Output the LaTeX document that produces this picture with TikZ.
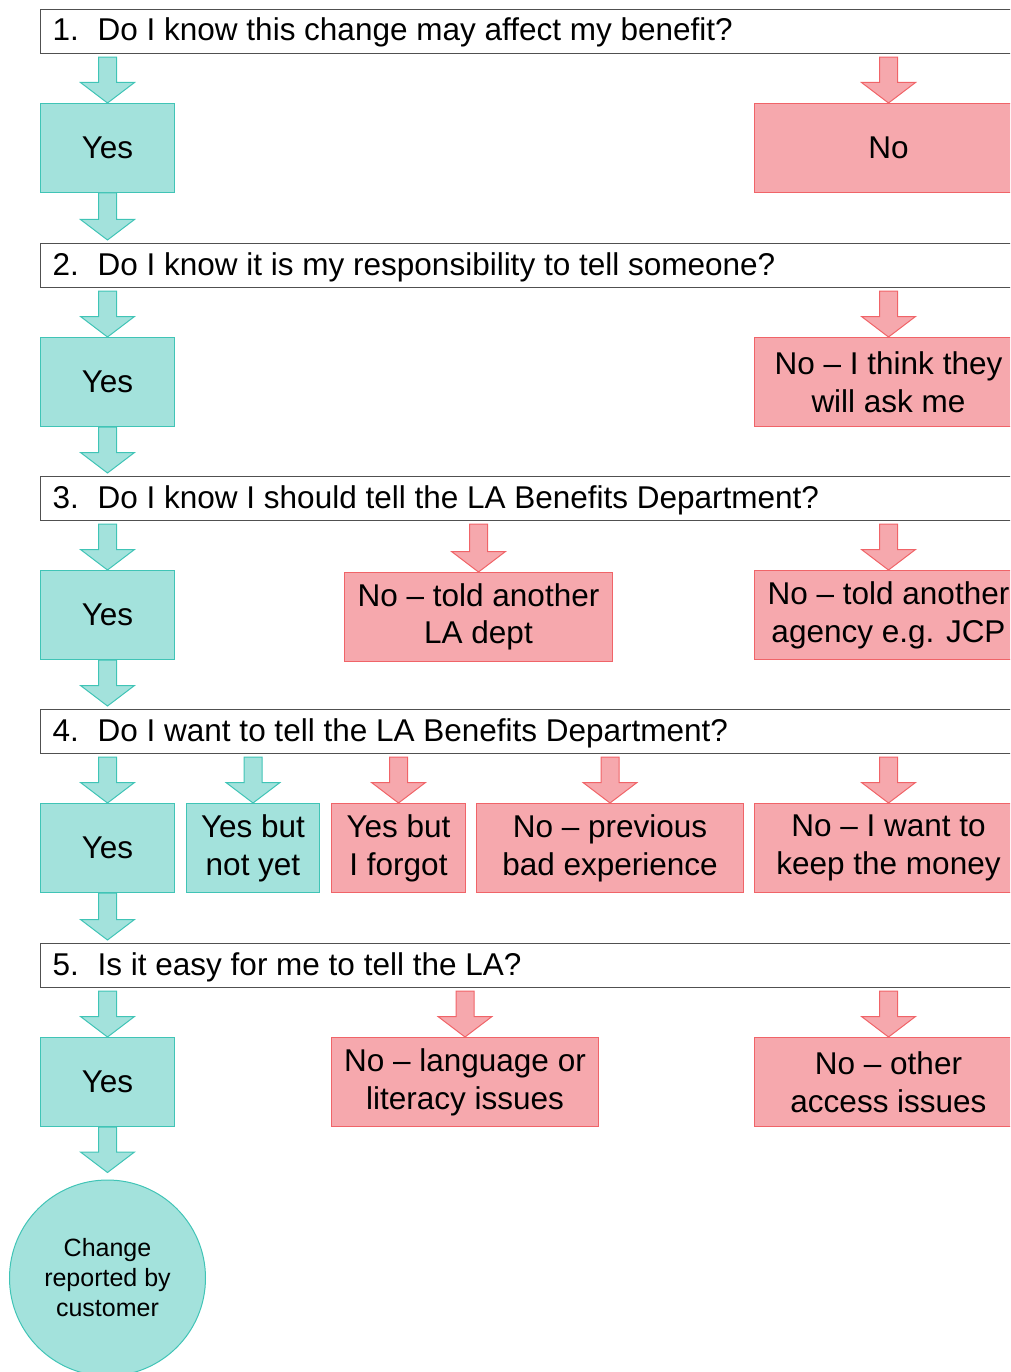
\documentclass[tikz,border=0pt]{standalone}
\usepackage{fontspec}
\setmainfont{Liberation Sans}
\usetikzlibrary{calc, positioning}
\definecolor{yesFill}{HTML}{A3E2DC}
\definecolor{yesLine}{HTML}{40C4B6}
\definecolor{noFill}{HTML}{F6A8AD}
\definecolor{noLine}{HTML}{F06468}
\definecolor{qLine}{HTML}{505050}
\newcommand{\bigtxt}{\fontsize{31.5}{37.7}\selectfont}
\newcommand{\smalltxt}{\fontsize{25}{30}\selectfont}
% block arrow from a top point down to a tip point
\newcommand{\blockarrow}[3]{%
  \path #2 coordinate (ba-t) #3 coordinate (ba-h);
  \draw[#1] ($(ba-t)+(-9,0)$) -- ($(ba-h)+(-9,-20.5)$) -- ($(ba-h)+(-27,-20.5)$) -- (ba-h)
    -- ($(ba-h)+(27,-20.5)$) -- ($(ba-h)+(9,-20.5)$) -- ($(ba-t)+(9,0)$) -- cycle;}
\tikzset{
  % one unit is one pixel of the page, y runs downwards
  qbox/.style     = {draw=qLine, line width=1.1pt, fill=white, anchor=north west,
                     minimum width=1000, minimum height=44, inner sep=0pt},
  qtext/.style    = {anchor=base west, inner sep=0pt, font=\bigtxt},
  ansbox/.style   = {anchor=north west, inner sep=0pt, minimum height=89,
                     align=center, font=\bigtxt, line width=1pt},
  yesbox/.style   = {ansbox, fill=yesFill, draw=yesLine},
  nobox/.style    = {ansbox, fill=noFill, draw=noLine},
  yesarrow/.style = {fill=yesFill, draw=yesLine, line width=1pt},
  noarrow/.style  = {fill=noFill, draw=noLine, line width=1pt},
  endcircle/.style = {circle, fill=yesFill, draw=yesLine, line width=1pt,
                      minimum size=196, inner sep=0pt, align=center, font=\smalltxt},
}

\begin{document}
\begin{tikzpicture}[x=1pt, y=-1pt]
\useasboundingbox (0,0) rectangle (1010,1372);
\clip (0,0) rectangle (1010,1372);

% ---- question 1 ----------------------------------------------------------
\node[qbox] (q1) at (40,9) {};
\node[qtext] (t1) at ($(q1.north west)+(12.5,32)$) {\makebox[45pt][l]{1.}Do I know this change may affect my benefit?};
\node[yesbox, minimum width=134] (y1) at (40,103) {Yes};
\node[nobox, minimum width=268] (n1) at (754,103) {No};
\blockarrow{yesarrow}{($(y1.north |- q1.south)+(0,3)$)}{(y1.north)}
\blockarrow{noarrow}{($(n1.north |- q1.south)+(0,3)$)}{(n1.north)}

% ---- question 2 ----------------------------------------------------------
\node[qbox] (q2) at (40,243) {};
\node[qtext] (t2) at ($(q2.north west)+(12.5,32)$) {\makebox[45pt][l]{2.}Do I know it is my responsibility to tell someone?};
\blockarrow{yesarrow}{(y1.south)}{($(y1.south |- q2.north)+(0,-3)$)}
\node[yesbox, minimum width=134] (y2) at (40,337) {Yes};
\node[nobox, minimum width=268] (n2) at (754,337) {No – I think they\\will ask me};
\blockarrow{yesarrow}{($(y2.north |- q2.south)+(0,3)$)}{(y2.north)}
\blockarrow{noarrow}{($(n2.north |- q2.south)+(0,3)$)}{(n2.north)}

% ---- question 3 ----------------------------------------------------------
\node[qbox] (q3) at (40,476) {};
\node[qtext] (t3) at ($(q3.north west)+(12.5,32)$) {\makebox[45pt][l]{3.}Do I know I should tell the LA Benefits Department?};
\blockarrow{yesarrow}{(y2.south)}{($(y2.south |- q3.north)+(0,-3)$)}
\node[yesbox, minimum width=134] (y3) at (40,570) {Yes};
\node[nobox, minimum width=268] (n3a) at (344,572) {No – told another\\LA dept};
\node[nobox, minimum width=268] (n3b) at (754,570) {No – told another\\agency e.g. JCP};
\blockarrow{yesarrow}{($(y3.north |- q3.south)+(0,3)$)}{(y3.north)}
\foreach \a in {n3a, n3b}
  \blockarrow{noarrow}{($(\a.north |- q3.south)+(0,3)$)}{(\a.north)};

% ---- question 4 ----------------------------------------------------------
\node[qbox] (q4) at (40,709) {};
\node[qtext] (t4) at ($(q4.north west)+(12.5,32)$) {\makebox[45pt][l]{4.}Do I want to tell the LA Benefits Department?};
\blockarrow{yesarrow}{(y3.south)}{($(y3.south |- q4.north)+(0,-3)$)}
\node[yesbox, minimum width=134] (y4) at (40,803) {Yes};
\node[yesbox, minimum width=133] (y4b) at (186,803) {Yes but\\not yet};
\node[nobox, minimum width=134] (n4a) at (331,803) {Yes but\\I forgot};
\node[nobox, minimum width=267] (n4b) at (476,803) {No – previous\\bad experience};
\node[nobox, minimum width=268] (n4c) at (754,803) {No – I want to\\keep the money};
\foreach \a in {y4, y4b}
  \blockarrow{yesarrow}{($(\a.north |- q4.south)+(0,3)$)}{(\a.north)};
\foreach \a in {n4a, n4b, n4c}
  \blockarrow{noarrow}{($(\a.north |- q4.south)+(0,3)$)}{(\a.north)};

% ---- question 5 ----------------------------------------------------------
\node[qbox] (q5) at (40,943) {};
\node[qtext] (t5) at ($(q5.north west)+(12.5,32)$) {\makebox[45pt][l]{5.}Is it easy for me to tell the LA?};
\blockarrow{yesarrow}{(y4.south)}{($(y4.south |- q5.north)+(0,-3)$)}
\node[yesbox, minimum width=134] (y5) at (40,1037) {Yes};
\node[nobox, minimum width=267] (n5a) at (331,1037) {No – language or\\literacy issues};
\node[nobox, minimum width=268] (n5b) at (754,1037) {No – other\\access issues};
\blockarrow{yesarrow}{($(y5.north |- q5.south)+(0,3)$)}{(y5.north)}
\foreach \a in {n5a, n5b}
  \blockarrow{noarrow}{($(\a.north |- q5.south)+(0,3)$)}{(\a.north)};

% ---- outcome -------------------------------------------------------------
\node[endcircle] (done) at (107.5,1278) {Change\\reported by\\customer};
\blockarrow{yesarrow}{(y5.south)}{($(done.north)+(0,-7)$)}
\end{tikzpicture}
\end{document}
